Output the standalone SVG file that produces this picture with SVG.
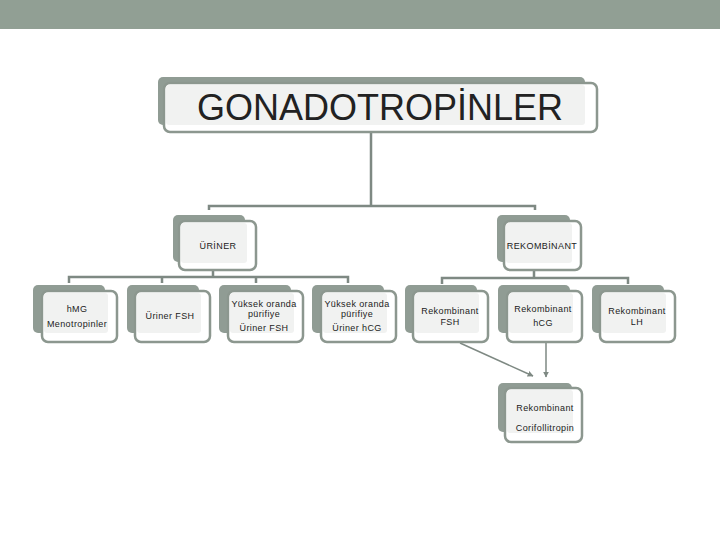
<svg xmlns="http://www.w3.org/2000/svg" width="720" height="540" viewBox="0 0 720 540">
<defs>
<style>
.sh{fill:#909c94}
.fr{fill:#ffffff;stroke:#8c978f;stroke-width:2.5}
.in{fill:#f1f2f1}
.t{font-family:"Liberation Sans",Arial,sans-serif;font-size:9px;fill:#222;text-anchor:middle;letter-spacing:0.4px}
.c{fill:none;stroke:#7e8983;stroke-width:2.5}
.a{fill:none;stroke:#7e8983;stroke-width:1.5}
</style>
<marker id="ah" viewBox="0 0 10 10" refX="9" refY="5" markerWidth="4" markerHeight="4" orient="auto" markerUnits="strokeWidth">
<path d="M0,0 L10,5 L0,10 z" fill="#7e8983"/>
</marker>
</defs>
<rect x="0" y="0" width="720" height="29" fill="#919f94"/>
<g id="connectors">
<path class="c" d="M371,132 V206 M209,210 V206 H535 V210"/>
<path class="c" d="M213,270 V277 M69,283 V277 H348 V283 M162,277 V283 M256,277 V283"/>
<path class="c" d="M534,270 V278 M442,284 V278 H628 V284"/>
<path class="a" d="M460,343 L533,376" marker-end="url(#ah)"/>
<path class="a" d="M546,343 V377" marker-end="url(#ah)"/>
</g>
<g id="n-root">
<rect class="sh" x="158" y="77" width="427" height="48" rx="5"/>
<rect class="fr" x="164" y="83" width="433" height="49" rx="6"/>
<rect class="in" x="166" y="85" width="419" height="40" rx="3"/>
<text x="380" y="120" font-family="'Liberation Sans',Arial,sans-serif" font-size="36" fill="#222" text-anchor="middle">GONADOTROPİNLER</text>
</g>
<g id="n-uriner">
<rect class="sh" x="173" y="215" width="72" height="47" rx="5"/>
<rect class="fr" x="179" y="221" width="77" height="49" rx="6"/>
<rect class="in" x="181" y="223" width="66" height="40" rx="3"/>
<text class="t" x="218" y="249">ÜRİNER</text>
</g>
<g id="n-rekombinant">
<rect class="sh" x="497" y="215" width="73" height="47" rx="5"/>
<rect class="fr" x="504" y="221" width="77" height="49" rx="6"/>
<rect class="in" x="506" y="223" width="66" height="40" rx="3"/>
<text class="t" x="542" y="249">REKOMBİNANT</text>
</g>
<g id="n-hmg">
<rect class="sh" x="33" y="285" width="72" height="48" rx="5"/>
<rect class="fr" x="42" y="291" width="75" height="51" rx="6"/>
<rect class="in" x="44" y="293" width="64" height="40" rx="3"/>
<text class="t" x="77" y="312">hMG</text>
<text class="t" x="77" y="327">Menotropinler</text>
</g>
<g id="n-urinerfsh">
<rect class="sh" x="127" y="285" width="72" height="48" rx="5"/>
<rect class="fr" x="135" y="291" width="75" height="51" rx="6"/>
<rect class="in" x="137" y="293" width="64" height="40" rx="3"/>
<text class="t" x="170" y="319">Üriner FSH</text>
</g>
<g id="n-ypfsh">
<rect class="sh" x="219" y="285" width="72" height="48" rx="5"/>
<rect class="fr" x="228" y="291" width="75" height="51" rx="6"/>
<rect class="in" x="230" y="293" width="64" height="40" rx="3"/>
<text class="t" x="264" y="307">Yüksek oranda</text>
<text class="t" x="264" y="317">pürifiye</text>
<text class="t" x="264" y="331">Üriner FSH</text>
</g>
<g id="n-yphcg">
<rect class="sh" x="312" y="285" width="72" height="48" rx="5"/>
<rect class="fr" x="321" y="291" width="75" height="51" rx="6"/>
<rect class="in" x="323" y="293" width="64" height="40" rx="3"/>
<text class="t" x="357" y="307">Yüksek oranda</text>
<text class="t" x="357" y="317">pürifiye</text>
<text class="t" x="357" y="331">Üriner hCG</text>
</g>
<g id="n-rfsh">
<rect class="sh" x="405" y="285" width="72" height="48" rx="5"/>
<rect class="fr" x="413" y="291" width="75" height="51" rx="6"/>
<rect class="in" x="415" y="293" width="64" height="40" rx="3"/>
<text class="t" x="450" y="314">Rekombinant</text>
<text class="t" x="450" y="325">FSH</text>
</g>
<g id="n-rhcg">
<rect class="sh" x="498" y="285" width="72" height="48" rx="5"/>
<rect class="fr" x="507" y="291" width="75" height="51" rx="6"/>
<rect class="in" x="509" y="293" width="64" height="40" rx="3"/>
<text class="t" x="543" y="312">Rekombinant</text>
<text class="t" x="543" y="326">hCG</text>
</g>
<g id="n-rlh">
<rect class="sh" x="592" y="285" width="72" height="48" rx="5"/>
<rect class="fr" x="600" y="291" width="75" height="51" rx="6"/>
<rect class="in" x="602" y="293" width="64" height="40" rx="3"/>
<text class="t" x="637" y="314">Rekombinant</text>
<text class="t" x="637" y="325">LH</text>
</g>
<g id="n-corifollitropin">
<rect class="sh" x="498" y="383" width="74" height="49" rx="5"/>
<rect class="fr" x="505" y="388" width="77" height="54" rx="6"/>
<rect class="in" x="507" y="390" width="66" height="43" rx="3"/>
<text class="t" x="545" y="411">Rekombinant</text>
<text class="t" x="545" y="431">Corifollitropin</text>
</g>
</svg>
